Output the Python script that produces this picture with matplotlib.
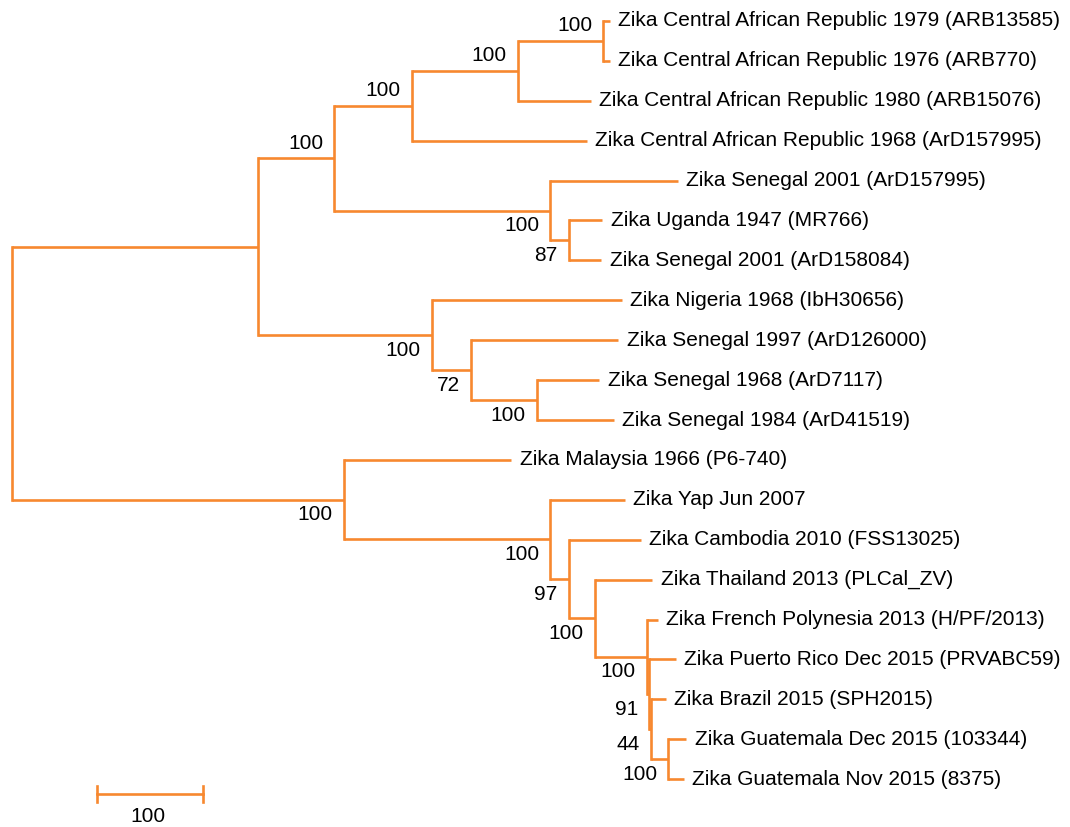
"""
    Zika virus phylogenetic tree (MEGA style) redrawn with matplotlib.
"""

#----Import all modules

import matplotlib
matplotlib.use( "Agg" )
import matplotlib.pyplot as plt


#----Data

# leaf names, top to bottom; the newick below refers to them by index
leafNames = [
    "Zika Central African Republic 1979 (ARB13585)",
    "Zika Central African Republic 1976 (ARB770)",
    "Zika Central African Republic 1980 (ARB15076)",
    "Zika Central African Republic 1968 (ArD157995)",
    "Zika Senegal 2001 (ArD157995)",
    "Zika Uganda 1947 (MR766)",
    "Zika Senegal 2001 (ArD158084)",
    "Zika Nigeria 1968 (IbH30656)",
    "Zika Senegal 1997 (ArD126000)",
    "Zika Senegal 1968 (ArD7117)",
    "Zika Senegal 1984 (ArD41519)",
    "Zika Malaysia 1966 (P6-740)",
    "Zika Yap Jun 2007",
    "Zika Cambodia 2010 (FSS13025)",
    "Zika Thailand 2013 (PLCal_ZV)",
    "Zika French Polynesia 2013 (H/PF/2013)",
    "Zika Puerto Rico Dec 2015 (PRVABC59)",
    "Zika Brazil 2015 (SPH2015)",
    "Zika Guatemala Dec 2015 (103344)",
    "Zika Guatemala Nov 2015 (8375)",
]

# topology, branch lengths and bootstrap values
treeNewick = ( "((((((0:6,1:6)100:81,2:69)100:100,3:165)100:73,"
               "(4:120,(5:32,6:31)87:17)100:204)100:72,"
               "(7:179,(8:139,(9:59,10:73)100:62)72:37)100:164):232,"
               "(11:158,(12:70,(13:68,(14:54,(15:10,(16:25,(17:14,"
               "(18:17,19:15)100:16)44:2)91:2)100:49)100:25)97:17)100:195)100:313);" )

scaleLength = 100

lineColor = "#F7882F"

fontSize = 15


#----Define All Functions

def parseNewick( s ):
    # small recursive parser -> dict( children, name, label, length )
    pos = [ 0 ]

    def readToken():
        start = pos[ 0 ]
        while pos[ 0 ] < len( s ) and s[ pos[ 0 ] ] not in ",():;":
            pos[ 0 ] += 1
        return s[ start:pos[ 0 ] ]

    def readNode():
        node = { "children": [], "name": None, "label": None, "length": 0.0 }
        if s[ pos[ 0 ] ] == "(":
            pos[ 0 ] += 1
            while True:
                node[ "children" ].append( readNode() )
                if s[ pos[ 0 ] ] == ",":
                    pos[ 0 ] += 1
                    continue
                pos[ 0 ] += 1   # ')'
                break
            tok = readToken()
            node[ "label" ] = tok if tok else None
        else:
            node[ "name" ] = readToken()
        if pos[ 0 ] < len( s ) and s[ pos[ 0 ] ] == ":":
            pos[ 0 ] += 1
            node[ "length" ] = float( readToken() )
        return node

    return readNode()

# end parseNewick


def layout( node, x0 ):
    # depth in x, leaf index in y; internal nodes at mid of first/last child
    node[ "x" ] = x0 + node[ "length" ]
    if not node[ "children" ]:
        node[ "y" ] = int( node[ "name" ] )
        return
    for c in node[ "children" ]:
        layout( c, node[ "x" ] )
    node[ "y" ] = ( node[ "children" ][ 0 ][ "y" ] + node[ "children" ][ -1 ][ "y" ] ) / 2.0

# end layout


def drawNode( ax, node, parentX, isFirst, isRoot=False ):
    lw = 1.9
    if not isRoot:
        ax.plot( [ parentX, node[ "x" ] ], [ node[ "y" ], node[ "y" ] ],
                 color=lineColor, lw=lw, solid_capstyle="butt" )
    if node[ "children" ]:
        ys = [ c[ "y" ] for c in node[ "children" ] ]
        ax.plot( [ node[ "x" ], node[ "x" ] ], [ min( ys ), max( ys ) ],
                 color=lineColor, lw=lw, solid_capstyle="projecting" )
        for i, c in enumerate( node[ "children" ] ):
            drawNode( ax, c, node[ "x" ], i == 0 )
        if node[ "label" ] and not isRoot:
            dy = 4 if isFirst else -4
            ax.annotate( node[ "label" ], ( node[ "x" ], node[ "y" ] ),
                         xytext=( -8, dy ), textcoords="offset points",
                         ha="right", va="bottom" if isFirst else "top",
                         fontsize=fontSize )
    else:
        ax.annotate( leafNames[ int( node[ "name" ] ) ], ( node[ "x" ], node[ "y" ] ),
                     xytext=( 6, 0 ), textcoords="offset points",
                     ha="left", va="center", fontsize=fontSize )

# end drawNode


def createPlot():
    plt.rcParams[ "font.family" ] = [ "Liberation Sans", "DejaVu Sans" ]

    tree = parseNewick( treeNewick )
    layout( tree, 0.0 )

    fig = plt.figure( figsize=( 10.70, 8.27 ), dpi=100 )
    ax = fig.add_axes( [ 0, 0, 1, 1 ] )

    drawNode( ax, tree, 0.0, True, isRoot=True )

    # scale bar
    sy = 19.37
    sx0 = 80.0
    ax.plot( [ sx0, sx0 + scaleLength ], [ sy, sy ], color=lineColor, lw=1.9 )
    for xx in ( sx0, sx0 + scaleLength ):
        ax.plot( [ xx, xx ], [ sy - 0.2, sy + 0.2 ], color=lineColor, lw=1.9 )
    ax.text( sx0 + scaleLength / 2.0 - 2, sy + 0.33, str( scaleLength ),
             ha="center", va="top", fontsize=fontSize )

    ax.set_xlim( -11.32, 998.1 )
    ax.set_ylim( 20.2, -0.526 )
    ax.axis( "off" )

    fig.savefig( "out.png", dpi=100 )

# end createPlot


def main():
    createPlot()

# end of main function


#----Entry point

if __name__ == "__main__":
    main()
